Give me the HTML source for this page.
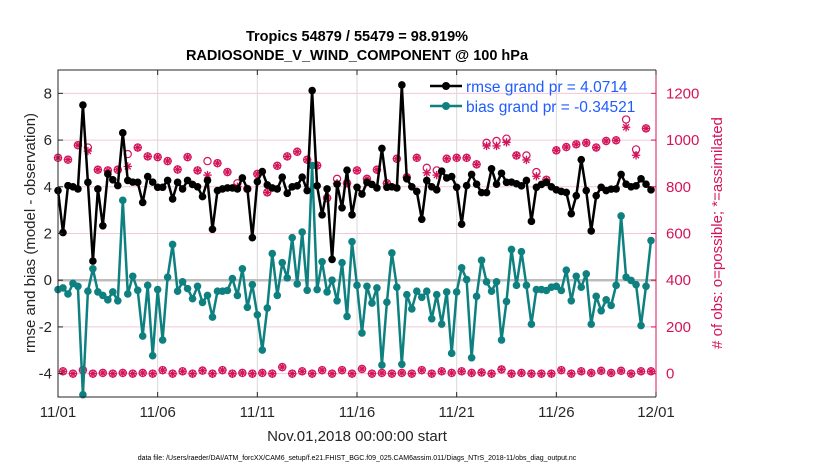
<!DOCTYPE html>
<html><head><meta charset="utf-8">
<style>
html,body{margin:0;padding:0;background:#fff;}
svg{display:block;font-family:"Liberation Sans",Arial,sans-serif;}
</style></head>
<body>
<svg id="chart" width="830" height="470" viewBox="0 0 830 470">
  <text x="357" y="41" text-anchor="middle" font-size="14.5" font-weight="bold" fill="#000">Tropics 54879 / 55479 = 98.919%</text>
  <text x="357" y="60" text-anchor="middle" font-size="14.5" font-weight="bold" fill="#000">RADIOSONDE_V_WIND_COMPONENT @ 100 hPa</text>
  <g id="grid"></g>
  <g id="marks"></g>
  <g id="axes"></g>
  <text transform="translate(35,233) rotate(-90)" text-anchor="middle" font-size="15" fill="#262626">rmse and bias (model - observation)</text>
  <text transform="translate(722,233) rotate(-90)" text-anchor="middle" font-size="15" fill="#d4145a"># of obs: o=possible; *=assimilated</text>
  <text x="357" y="441" text-anchor="middle" font-size="15" fill="#262626">Nov.01,2018 00:00:00 start</text>
  <text x="357" y="460" text-anchor="middle" font-size="7" fill="#000">data file: /Users/raeder/DAI/ATM_forcXX/CAM6_setup/f.e21.FHIST_BGC.f09_025.CAM6assim.011/Diags_NTrS_2018-11/obs_diag_output.nc</text>
  <g id="legend">
    <line x1="430" y1="86" x2="462" y2="86" stroke="#000" stroke-width="2.5"/>
    <circle cx="446" cy="86" r="4" fill="#000"/>
    <text x="466" y="92" font-size="15.5" fill="#1f5bff">rmse grand pr = 4.0714</text>
    <line x1="430" y1="106" x2="462" y2="106" stroke="#0f8080" stroke-width="2.5"/>
    <circle cx="446" cy="106" r="4" fill="#0f8080"/>
    <text x="466" y="112" font-size="15.5" fill="#1f5bff">bias grand pr = -0.34521</text>
  </g>
</svg>
<script>
const rmse = [3.84,2.04,4.05,4.0,3.91,7.5,4.19,0.82,3.91,2.33,4.55,4.3,4.05,6.31,4.27,4.2,4.19,3.33,4.44,4.2,3.98,3.98,4.27,3.48,4.19,3.91,4.27,4.1,4.0,3.58,4.27,2.18,3.84,3.91,3.95,3.95,3.91,4.38,3.91,1.82,4.22,4.65,4.08,3.95,3.91,4.41,3.72,4.0,4.04,4.41,3.84,8.12,4.04,2.80,3.91,0.89,4.11,3.1,4.71,2.8,3.98,3.69,4.19,4.1,3.95,5.64,3.98,4.0,3.95,8.36,4.34,4.0,3.8,2.61,4.27,4.0,3.87,4.67,4.38,4.44,3.98,2.40,4.05,4.53,4.11,3.75,3.75,4.77,4.11,4.58,4.19,4.2,4.13,4.04,4.27,2.52,3.98,4.1,4.19,4.0,3.87,3.8,3.76,2.85,3.62,5.16,3.84,2.11,3.62,3.98,3.84,3.9,3.91,4.53,4.11,4.0,4.04,4.34,4.11,3.87];
const bias = [-0.40,-0.33,-0.59,-0.14,-0.26,-4.9,-0.47,0.49,-0.50,-0.65,-0.84,-0.50,-0.88,3.42,-0.59,0.17,-0.43,-2.39,-0.22,-3.23,-0.40,-2.56,0.13,1.53,-0.47,-0.07,-0.36,-0.79,-0.26,-0.95,-0.65,-1.58,-0.47,-0.47,-0.44,0.07,-0.65,0.49,-1.16,-0.19,-1.48,-2.99,-1.19,1.14,-0.65,0.75,0.10,1.82,-0.16,2.06,-0.43,4.91,-0.40,0.79,-0.50,0.0,-0.88,0.75,-1.55,1.65,-0.22,-2.26,-0.26,-0.98,-0.33,-3.63,-0.94,1.17,-0.30,-3.60,-0.62,-1.23,-0.47,-0.73,-0.47,-1.65,-0.62,-1.88,-0.50,-3.13,-0.50,0.53,0.03,-3.32,-0.69,0.85,-0.07,-0.47,-0.07,-2.56,-0.91,1.32,-0.22,1.22,-0.22,-1.88,-0.40,-0.4,-0.44,-0.3,-0.26,-0.44,0.43,-0.88,0.17,-0.30,0.27,-1.88,-0.69,-1.31,-0.84,-1.08,-0.22,2.75,0.13,-0.01,-0.19,-1.94,-0.26,1.70];
const possibleMain = [924,916,978,968,873,870,873,940,968,930,927,910,874,927,870,910,901,863,815,791,855,776,890,930,950,916,891,752,834,815,870,834,873,815,920,841,924,881,870,920,924,924,896,988,996,1006,934,934,863,830,956,970,982,988,968,996,999,1088,960,1050];
const assimMain = [924,916,978,953,873,870,873,887,968,930,927,910,874,927,870,850,901,863,800,791,855,776,890,930,950,916,891,752,815,815,870,834,873,815,920,841,924,860,850,920,924,924,896,975,975,990,934,915,845,830,956,970,982,988,968,996,999,1055,935,1050];
const possibleOff = [10,0,15,0,3,0,3,0,3,0,15,0,10,0,13,0,15,0,3,0,3,0,28,0,10,0,15,0,15,0,20,0,3,0,3,0,15,0,10,3,10,3,5,0,18,0,3,0,0,0,15,0,10,3,12,3,12,0,10,10];
const assimOff = possibleOff.slice();
const xTickLabels = ["11/01","11/06","11/11","11/16","11/21","11/26","12/01"];
const xTickDays = [0,5,10,15,20,25,30];
const leftTicks = [-4,-2,0,2,4,6,8];
const rightTicks = [0,200,400,600,800,1000,1200];

const NS="http://www.w3.org/2000/svg";
const X0=58,X1=656,Y0=70,Y1=397;
const xDay=d=>X0+(d/30)*(X1-X0);
const xStep=i=>xDay(i/4);
const yL=v=>Y1-(v+5)/14*(Y1-Y0);
const yR=c=>yL(c/100-4);
function el(tag,attrs,parent){const e=document.createElementNS(NS,tag);for(const k in attrs)e.setAttribute(k,attrs[k]);parent.appendChild(e);return e;}
const grid=document.getElementById('grid'),marks=document.getElementById('marks'),axes=document.getElementById('axes');

leftTicks.forEach(v=>{ if(v!==0){const l=el('line',{x1:X0,x2:X1,y1:yL(v),y2:yL(v),stroke:'#f4c6d8','stroke-width':1},grid);

}});
xTickDays.slice(1,-1).forEach(d=>{const l=el('line',{x1:xDay(d),x2:xDay(d),y1:Y0,y2:Y1,stroke:'#d9d9d9','stroke-width':1},grid);

});
const zl=el('line',{x1:X0,x2:X1,y1:yL(0),y2:yL(0),stroke:'#bdbdbd','stroke-width':2.5},grid);



function obsMarker(x,y,cp,ca){
  const g=el('g',{},marks);
  
  
  const yp=y(cp),ya=y(ca);
  el('circle',{cx:x,cy:yp,r:3.6,fill:'none',stroke:'#d4145a','stroke-width':1.2},g);
  for(let a=0;a<4;a++){const t=a*Math.PI/4;const dx=4.2*Math.cos(t),dy=4.2*Math.sin(t);
    el('line',{x1:x-dx,y1:ya-dy,x2:x+dx,y2:ya+dy,stroke:'#d4145a','stroke-width':1.3},g);}
}
possibleMain.forEach((c,k)=>obsMarker(xStep(2*k),yR,c,assimMain[k]));
possibleOff.forEach((c,k)=>obsMarker(xStep(2*k+1),yR,c,assimOff[k]));

function series(vals,color,name){
  const pts=vals.map((v,i)=>xStep(i).toFixed(1)+','+yL(v).toFixed(1)).join(' ');
  const pl=el('polyline',{points:pts,fill:'none',stroke:color,'stroke-width':2.5,'stroke-linejoin':'round'},marks);
  
  
  vals.forEach((v,i)=>{const c=el('circle',{cx:xStep(i),cy:yL(v),r:3.8,fill:color},marks);
    
    });
}
series(bias,'#0f8080','bias');
series(rmse,'#000000','rmse');

const frame=el('path',{d:`M${X1},${Y0} H${X0} V${Y1} H${X1}`,fill:'none',stroke:'#262626','stroke-width':1},axes);


const ra=el('line',{x1:X1,x2:X1,y1:Y0,y2:Y1,stroke:'#d4145a','stroke-width':1},axes);


leftTicks.forEach(v=>{
  el('line',{x1:X0,x2:X0+5,y1:yL(v),y2:yL(v),stroke:'#262626'},axes);
  const t=el('text',{x:X0-6,y:yL(v)+5,'text-anchor':'end','font-size':15,fill:'#262626'},axes);
  t.textContent=v;
  
  
});
rightTicks.forEach(c=>{
  el('line',{x1:X1,x2:X1-5,y1:yR(c),y2:yR(c),stroke:'#d4145a'},axes);
  const t=el('text',{x:X1+10,y:yR(c)+5,'font-size':15,fill:'#d4145a'},axes);
  t.textContent=c;
  
  
});
xTickDays.forEach((d,k)=>{
  el('line',{x1:xDay(d),x2:xDay(d),y1:Y1,y2:Y1-5,stroke:'#262626'},axes);
  el('line',{x1:xDay(d),x2:xDay(d),y1:Y0,y2:Y0+5,stroke:'#262626'},axes);
  const t=el('text',{x:xDay(d),y:Y1+20,'text-anchor':'middle','font-size':15,fill:'#262626'},axes);
  t.textContent=xTickLabels[k];
  
  
});
</script>
</body></html>
